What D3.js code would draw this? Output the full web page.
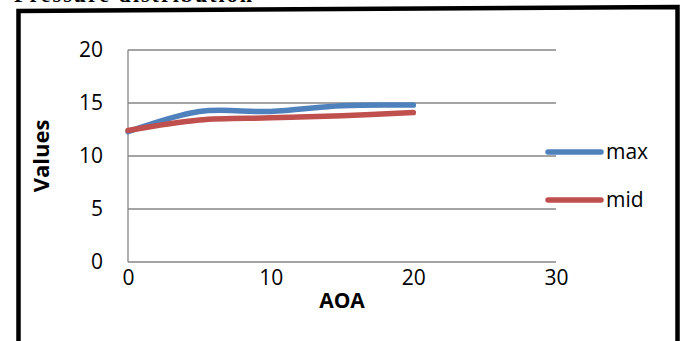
<!DOCTYPE html>
<html>
<head>
<meta charset="utf-8">
<script src="https://cdn.jsdelivr.net/npm/d3@7"></script>
<style>
  html, body { margin: 0; padding: 0; background: #fff; }
  svg { display: block; }
</style>
</head>
<body>
<svg id="chart" width="684" height="341"></svg>
<script>
// AOA sample points and the two pressure series
const aoa = [0, 5, 10, 15, 20];
const maxValues = [12.3, 14.2, 14.2, 14.75, 14.8];
const midValues = [12.4, 13.4, 13.6, 13.8, 14.1];
const xTicks = [0, 10, 20, 30];
const yTicks = [0, 5, 10, 15, 20];
const seriesNames = ["max", "mid"];
const seriesColors = ["#4F81BD", "#C0504D"];

const svg = d3.select("#chart");
const font = "'Open Sans', sans-serif";

const x = d3.scaleLinear().domain([0, 30]).range([128, 556]);
const y = d3.scaleLinear().domain([0, 20]).range([262, 50]);

// Caption above the frame (clipped by the top edge)
svg.append("text")
  .attr("x", 14).attr("y", 2)
  .attr("font-family", "'Liberation Serif', 'Times New Roman', serif")
  .attr("font-weight", "bold").attr("font-size", 22)
  .attr("textLength", 238)
  .text("Pressure distribution");

// Outer frame
svg.append("path")
  .attr("d", "M18.5,345 L18.5,11 L677.5,7 L677.5,345")
  .attr("fill", "none").attr("stroke", "#000").attr("stroke-width", 4.5);

// Horizontal gridlines
svg.append("g").selectAll("line")
  .data(yTicks.filter(d => d > 0))
  .join("line")
  .attr("x1", x(0)).attr("x2", x(30))
  .attr("y1", d => y(d)).attr("y2", d => y(d))
  .attr("stroke", "#868686").attr("stroke-width", 1.3);

// Axes
const yAxis = svg.append("g")
  .attr("transform", `translate(${x(0)},0)`)
  .call(d3.axisLeft(y).tickValues(yTicks).tickSize(0).tickPadding(25));
const xAxis = svg.append("g")
  .attr("transform", `translate(0,${y(0)})`)
  .call(d3.axisBottom(x).tickValues(xTicks).tickSize(0).tickPadding(8));
[yAxis, xAxis].forEach(g => {
  g.select(".domain").attr("stroke", "#868686").attr("stroke-width", 1.3);
  g.selectAll("text").attr("font-family", font).attr("font-size", 21).attr("fill", "#000");
});
xAxis.select(".domain").attr("d", `M${x(0)},0H${x(30)}`);
yAxis.select(".domain").attr("d", `M0,${y(0)}V${y(20)}`);

// Axis titles
svg.append("text")
  .attr("x", (x(0) + x(30)) / 2).attr("y", 308)
  .attr("text-anchor", "middle")
  .attr("font-family", font).attr("font-weight", "bold").attr("font-size", 21)
  .text("AOA");
svg.append("text")
  .attr("transform", `translate(49,${(y(0) + y(20)) / 2}) rotate(-90)`)
  .attr("text-anchor", "middle")
  .attr("font-family", font).attr("font-weight", "bold").attr("font-size", 22)
  .text("Values");

// Smoothed series lines
const series = [maxValues, midValues];
const line = d3.line()
  .x((d, i) => x(aoa[i]))
  .y(d => y(d))
  .curve(d3.curveCardinal.tension(0));
series.forEach((vals, k) => {
  svg.append("path")
    .datum(vals)
    .attr("d", line)
    .attr("fill", "none")
    .attr("stroke", seriesColors[k])
    .attr("stroke-width", 5.5)
    .attr("stroke-linecap", "round");
});

// Legend
const legendY = [152, 200];
seriesNames.forEach((name, k) => {
  svg.append("line")
    .attr("x1", 548).attr("x2", 601)
    .attr("y1", legendY[k]).attr("y2", legendY[k])
    .attr("stroke", seriesColors[k]).attr("stroke-width", 5.5)
    .attr("stroke-linecap", "round");
  svg.append("text")
    .attr("x", 606).attr("y", legendY[k]).attr("dy", "0.35em")
    .attr("font-family", font).attr("font-size", 21)
    .text(name);
});
</script>
</body>
</html>
